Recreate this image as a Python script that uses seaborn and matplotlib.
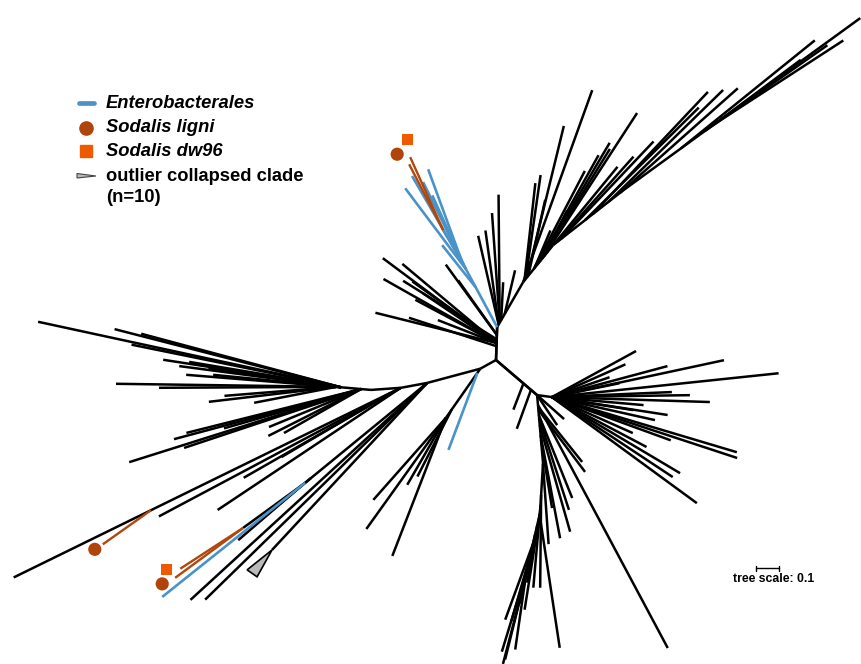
import numpy as np
import pandas as pd
import matplotlib
matplotlib.use("Agg")
import matplotlib.pyplot as plt
from matplotlib.patches import Polygon
import seaborn as sns

sns.set_theme(style="white")
plt.rcParams["font.family"] = ["Liberation Sans", "DejaVu Sans"]

# ---------------------------------------------------------------- colours
COLORS = {"other": "#000000", "Enterobacterales": "#4a93c9", "Sodalis": "#b0470d"}
LIGNI_COLOR = "#b0440a"
DW96_COLOR = "#ee5a00"
CLADE_FILL = "#b9b9b9"

# ---------------------------------------------------------------- tree data
# Internal backbone nodes of the unrooted layout: parent, angle (deg), branch length
NODE_PARENT = {"N1": "N2", "N3": "N2", "L1": "N2", "L2": "L1", "L3": "L2", "L4": "L3", "R": "N3"}
NODE_ANGLE = {"N1": 88, "N3": -40.5, "L1": 209, "L2": 195, "L3": 190.5, "L4": 184, "R": -7.6}
NODE_LEN = {"N1": 0.143, "N3": 0.235, "L1": 0.078, "L2": 0.239, "L3": 0.117, "L4": 0.130, "R": 0.065}

# Clades: backbone steps (angle, length); leaves (position on backbone, angle, length)
UPPER_RIGHT_BACKBONE = [(60, 0.226), (51, 0.207), (38, 0.387), (36, 0.665), (36, 0.609)]
UPPER_RIGHT_LEAVES = [
    (0.022, 90.5, 0.557), (0.022, 94, 0.478), (0.013, 98, 0.413), (0.013, 103, 0.396),
    (0.035, 87, 0.165), (0.065, 76.6, 0.196),
    (0.226, 70.2, 0.887), (0.252, 76.3, 0.678), (0.243, 81.8, 0.457), (0.235, 83.6, 0.426),
    (0.261, 77.4, 0.339), (0.304, 67, 0.178), (0.326, 60.8, 0.543), (0.370, 57, 0.743),
    (0.357, 58.3, 0.561), (0.391, 64.5, 0.204), (0.300, 62.5, 0.480), (0.340, 59.5, 0.600),
    (0.435, 50.6, 0.439), (0.457, 48.2, 0.496), (0.478, 46.5, 0.583),
    (0.609, 44.7, 0.696), (0.652, 46.7, 0.730), (0.739, 44.3, 0.696), (0.804, 41.6, 0.683),
    (1.130, 38.9, 0.748), (1.261, 35, 0.648), (1.304, 33, 0.674), (1.348, 36.7, 0.430),
]

UPPER_LEFT_BACKBONE = [(88, 0.143)]
UPPER_LEFT_LEAVES = [
    (0.074, 143.3, 0.617), (0.074, 140, 0.535), (0.074, 150.5, 0.565), (0.074, 166, 0.543),
    (0.074, 158.7, 0.274), (0.074, 146, 0.387), (0.074, 152, 0.400), (0.109, 126, 0.378),
    (0.109, 125.3, 0.291), (0.090, 148, 0.480), (0.060, 162, 0.400), (0.080, 144.5, 0.450),
]

ENTERO_UPPER_BACKBONE = [(118.3, 0.321), (120.7, 0.162)]
ENTERO_UPPER_LEAVES = [
    (0.287, 126.9, 0.439), (0.321, 120.2, 0.433), (0.321, 110.1, 0.430),
    (0.287, 116.2, 0.421), (0.196, 128.5, 0.235), (0.304, 114.3, 0.335),
]
SODALIS_UPPER_LEAVES = [(0.483, 114.3, 0.348), (0.483, 117.3, 0.322)]
SODALIS_UPPER_KIND = ["dw96", "ligni"]
SODALIS_UPPER_MARK = [(99.5, 0.079), (140, 0.068)]   # symbol offset from tip: angle, gap

LEFT_FAN_BACKBONE = [(175, 0.152)]
LEFT_FAN_LEAVES = [
    (0.130, 167.8, 1.348), (0.130, 165.6, 1.017), (0.130, 165, 0.900), (0.130, 171.2, 0.783),
    (0.130, 170.5, 0.670), (0.130, 171.7, 0.583), (0.130, 168.5, 0.930),
    (0.152, 175.4, 0.654), (0.152, 174.4, 0.537), (0.152, 179.2, 0.957), (0.152, 180.3, 0.770),
    (0.152, 184.6, 0.487), (0.152, 186.7, 0.557), (0.152, 191, 0.363), (0.140, 172.5, 0.700),
    (0.043, 195, 0.842), (0.043, 194.1, 0.783), (0.043, 198.4, 0.811), (0.043, 197.5, 1.057),
    (0.043, 206.8, 0.452), (0.043, 202.4, 0.433), (0.043, 209.7, 0.386), (0.043, 196, 0.620),
]

LOWER_LONG_BACKBONE = [(206.1, 1.874)]
LOWER_LONG_LEAVES = [(0.0, 208, 1.191), (0.0, 213.7, 0.957), (0.0, 209.8, 0.787), (0.05, 210.5, 0.550)]
SODALIS_LONG_LEAVES = [(1.209, 215.3, 0.257)]
SODALIS_LONG_KIND = ["ligni"]
SODALIS_LONG_MARK = [(212, 0.041)]

LOWER_COMB_LEAVES = [(0.0, 222.5, 1.396), (0.0, 224.3, 1.349)]

LOWER_BLUE_BACKBONE = [(219.3, 0.686), (216, 0.333)]
LOWER_BLUE_BLACK_LEAVES = [(0.696, 220.7, 0.373), (0.652, 219.7, 0.300)]
ENTERO_LOWER_LEAVES = [(0.686, 218.6, 0.795)]
SODALIS_LOWER_LEAVES = [(1.019, 216.3, 0.367), (1.019, 213, 0.326)]
SODALIS_LOWER_KIND = ["ligni", "dw96"]
SODALIS_LOWER_MARK = [(205, 0.062), (184, 0.061)]

COLLAPSED_STEM = (227.1, 0.991)
COLLAPSED_EDGES = [(218.7, 0.139), (240.9, 0.134)]

LOWER_MID_BACKBONE = [(235, 0.261)]
LOWER_MID_LEAVES = [
    (0.261, 228.5, 0.476), (0.261, 234.4, 0.594), (0.261, 248.8, 0.644),
    (0.261, 240, 0.336), (0.217, 242.9, 0.327),
]
ENTERO_MID_LEAVES = [(0.022, 249.4, 0.358)]

CENTRE_EDGE_BACKBONE = [(-40.5, 0.235)]
CENTRE_EDGE_LEAVES = [(0.157, 249, 0.122), (0.200, 250, 0.180)]

RIGHT_FAN_LEAVES = [
    (0, 28.7, 0.417), (0, 12.1, 0.765), (0, 6, 0.991), (0, -1.8, 0.687), (0, 2.4, 0.522),
    (0, -8.8, 0.509), (0, -9.1, 0.357), (0, -16.6, 0.839), (0, -18.2, 0.848),
    (0, -30.7, 0.648), (0, -33.5, 0.630), (0, -36.2, 0.781), (0, -27.8, 0.465),
    (0, -24, 0.385), (0, 19, 0.265), (0, -12.6, 0.459), (0, 11.6, 0.300), (0, 0.8, 0.600),
    (0, 24, 0.350), (0, -20, 0.550), (0, 15, 0.520), (0, -5, 0.400),
]
N3_SHORT_LEAVES = [(0, -41.6, 0.157), (0, -56.3, 0.157)]

DOWN_FAN_BACKBONE = [(-85, 0.296), (-93.4, 0.217), (-102.9, 0.330), (-103.9, 0.326)]
DOWN_FAN_LEAVES = [
    (0.065, -53, 0.337), (0.052, -51.3, 0.306), (0.087, -68.1, 0.389), (0.130, -74.1, 0.483),
    (0.174, -79.3, 0.457), (0.196, -80.8, 0.300), (0.043, -61.9, 1.198), (0.522, -81.4, 0.585),
    (0.435, -90.6, 0.404), (0.652, -110.1, 0.351), (0.609, -102.2, 0.309), (0.565, -100, 0.257),
    (0.870, -104.7, 0.320), (0.783, -98.2, 0.335), (0.100, -72, 0.420), (0.300, -86, 0.350),
    (0.700, -106, 0.300), (0.480, -95, 0.360), (0.520, -99, 0.420), (0.760, -107, 0.380),
]

SCALE_LEN = 0.1
LEGEND_LABELS = ["Enterobacterales", "Sodalis ligni", "Sodalis dw96", "outlier collapsed clade\n(n=10)"]

# ---------------------------------------------------------------- layout
UNIT_PX = 230.0            # pixels per substitution/site
W_PX, H_PX = 861, 664
ORIGIN_PX = (496, 360)     # where node N2 sits on the canvas


def polar(ang, ln):
    a = np.radians(ang)
    return np.array([ln * np.cos(a), ln * np.sin(a)])


nodes = {"N2": np.array([0.0, 0.0])}
for name, parent in NODE_PARENT.items():
    nodes[name] = nodes[parent] + polar(NODE_ANGLE[name], NODE_LEN[name])


def walk(origin, steps, d):
    p = np.array(origin, dtype=float)
    rem = d
    for ang, ln in steps:
        if rem <= ln:
            return p + polar(ang, rem)
        p = p + polar(ang, ln)
        rem -= ln
    return p


rows = []
symbols = []


def add_seg(p, q, group):
    sid = len(rows) // 2
    rows.append({"seg": sid, "x": p[0], "y": p[1], "group": group})
    rows.append({"seg": sid, "x": q[0], "y": q[1], "group": group})


def add_clade(start, backbone, leaves, group="other", draw_backbone=True, kinds=None, marks=None):
    p0 = nodes[start]
    if draw_backbone:
        p = p0.copy()
        for ang, ln in backbone:
            q = p + polar(ang, ln)
            add_seg(p, q, group)
            p = q
    for i, (d, ang, ln) in enumerate(leaves):
        a = walk(p0, backbone, d)
        b = a + polar(ang, ln)
        add_seg(a, b, group)
        if kinds is not None:
            m = b + polar(*marks[i])
            symbols.append({"x": m[0], "y": m[1], "kind": kinds[i]})


# backbone edges of the unrooted layout
for name, parent in NODE_PARENT.items():
    add_seg(nodes[parent], nodes[name], "other")

add_clade("N1", UPPER_RIGHT_BACKBONE, UPPER_RIGHT_LEAVES)
add_clade("N2", UPPER_LEFT_BACKBONE, UPPER_LEFT_LEAVES)
add_clade("N1", ENTERO_UPPER_BACKBONE, ENTERO_UPPER_LEAVES, "Enterobacterales")
add_clade("N1", ENTERO_UPPER_BACKBONE, SODALIS_UPPER_LEAVES, "Sodalis", False,
          SODALIS_UPPER_KIND, SODALIS_UPPER_MARK)
add_clade("L4", LEFT_FAN_BACKBONE, LEFT_FAN_LEAVES)
add_clade("L3", LOWER_LONG_BACKBONE, LOWER_LONG_LEAVES)
add_clade("L3", LOWER_LONG_BACKBONE, SODALIS_LONG_LEAVES, "Sodalis", False,
          SODALIS_LONG_KIND, SODALIS_LONG_MARK)
add_clade("L2", [], LOWER_COMB_LEAVES)
add_clade("L2", LOWER_BLUE_BACKBONE, LOWER_BLUE_BLACK_LEAVES)
add_clade("L2", LOWER_BLUE_BACKBONE, ENTERO_LOWER_LEAVES, "Enterobacterales", False)
add_clade("L2", LOWER_BLUE_BACKBONE, SODALIS_LOWER_LEAVES, "Sodalis", False,
          SODALIS_LOWER_KIND, SODALIS_LOWER_MARK)
add_clade("L1", LOWER_MID_BACKBONE, LOWER_MID_LEAVES)
add_clade("L1", LOWER_MID_BACKBONE, ENTERO_MID_LEAVES, "Enterobacterales", False)
add_clade("N2", CENTRE_EDGE_BACKBONE, CENTRE_EDGE_LEAVES)
add_clade("R", [], RIGHT_FAN_LEAVES)
add_clade("N3", [], N3_SHORT_LEAVES)
add_clade("N3", DOWN_FAN_BACKBONE, DOWN_FAN_LEAVES)

# stem of the collapsed clade
apex = nodes["L2"] + polar(*COLLAPSED_STEM)
add_seg(nodes["L2"], apex, "other")

df = pd.DataFrame(rows)
mk = pd.DataFrame(symbols)

# ---------------------------------------------------------------- figure
fig = plt.figure(figsize=(W_PX / 100, H_PX / 100), dpi=100)
ax = fig.add_axes([0, 0, 1, 1])

widths = {"other": 1.8, "Enterobacterales": 1.9, "Sodalis": 1.7}
for grp in ["other", "Enterobacterales", "Sodalis"]:
    sub = df[df["group"] == grp]
    sns.lineplot(data=sub, x="x", y="y", units="seg", estimator=None, sort=False,
                 color=COLORS[grp], linewidth=widths[grp], solid_capstyle="butt",
                 legend=False, ax=ax)

tri = np.array([apex] + [apex + polar(a, l) for a, l in COLLAPSED_EDGES])
ax.add_patch(Polygon(tri, closed=True, facecolor=CLADE_FILL, edgecolor="black", lw=1.2, zorder=3))

sns.scatterplot(data=mk[mk["kind"] == "ligni"], x="x", y="y", marker="o", s=90,
                color=LIGNI_COLOR, edgecolor="none", legend=False, ax=ax, zorder=4)
sns.scatterplot(data=mk[mk["kind"] == "dw96"], x="x", y="y", marker="s", s=64,
                color=DW96_COLOR, edgecolor="none", legend=False, ax=ax, zorder=4)

ax.set_xlim(-ORIGIN_PX[0] / UNIT_PX, (W_PX - ORIGIN_PX[0]) / UNIT_PX)
ax.set_ylim(-(H_PX - ORIGIN_PX[1]) / UNIT_PX, ORIGIN_PX[1] / UNIT_PX)
ax.set_aspect("equal")
ax.axis("off")


def fx(px):
    return px / W_PX


def fy(py):
    return 1 - py / H_PX


# ---------------------------------------------------------------- legend
fs = 13.2
txt = dict(fontsize=fs, fontweight="bold", color="black", ha="left")
fig.add_artist(plt.Line2D([fx(79), fx(94)], [fy(103), fy(103)], color=COLORS["Enterobacterales"],
                          lw=3.4, solid_capstyle="round"))
fig.text(fx(106), fy(103), LEGEND_LABELS[0], fontstyle="italic", va="center", **txt)
fig.add_artist(plt.Line2D([fx(86)], [fy(128)], marker="o", markersize=9.5, color=LIGNI_COLOR, lw=0))
fig.text(fx(106), fy(127), LEGEND_LABELS[1], fontstyle="italic", va="center", **txt)
fig.add_artist(plt.Line2D([fx(86)], [fy(151)], marker="s", markersize=8, color=DW96_COLOR, lw=0))
fig.text(fx(106), fy(151), LEGEND_LABELS[2], fontstyle="italic", va="center", **txt)
fig.add_artist(Polygon([[fx(77), fy(173.5)], [fx(96), fy(176)], [fx(77), fy(178)]], closed=True,
                       facecolor=CLADE_FILL, edgecolor="#444444", lw=0.8, transform=fig.transFigure))
fig.text(fx(106), fy(168.5), LEGEND_LABELS[3], va="top", linespacing=1.3, **txt)

# ---------------------------------------------------------------- tree scale
sx0 = -ORIGIN_PX[0] / UNIT_PX + 756 / UNIT_PX
sy = ORIGIN_PX[1] / UNIT_PX - 568 / UNIT_PX
tick = 2.5 / UNIT_PX
ax.plot([sx0, sx0 + SCALE_LEN], [sy, sy], color="black", lw=1.0)
ax.plot([sx0, sx0], [sy - tick, sy + tick], color="black", lw=1.0)
ax.plot([sx0 + SCALE_LEN, sx0 + SCALE_LEN], [sy - tick, sy + tick], color="black", lw=1.0)
fig.text(fx(774), fy(579), f"tree scale: {SCALE_LEN:g}", fontsize=8.8, fontweight="bold",
         color="black", ha="center", va="center")

fig.savefig("out.png", dpi=100)
